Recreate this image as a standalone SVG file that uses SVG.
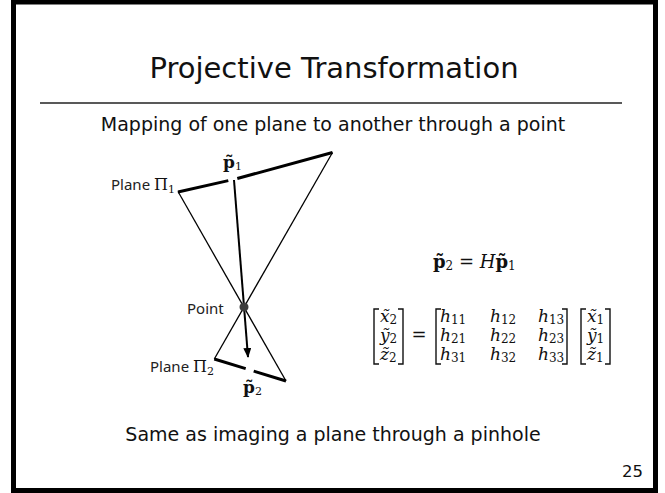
<svg xmlns="http://www.w3.org/2000/svg" width="665" height="493" viewBox="0 0 665 493">
<style>
.sans{font-family:"DejaVu Sans","Verdana",sans-serif;fill:#111}
.lbl{font-family:"Noto Sans","Liberation Sans",sans-serif;font-size:15px;fill:#222}
.math{font-family:"DejaVu Serif","Liberation Serif",serif;fill:#111}
.it{font-style:italic}
.thin{stroke:#000;stroke-width:1.3;fill:none}
.thick{stroke:#000;stroke-width:3;fill:none}
.br{stroke:#111;stroke-width:1.4;fill:none}
</style>
<defs>
<marker id="ah" markerWidth="10" markerHeight="8" refX="9" refY="4" orient="auto" markerUnits="userSpaceOnUse">
<path d="M0,0 L10,4 L0,8 Z" fill="#000"/>
</marker>
</defs>
<rect x="0" y="0" width="665" height="493" fill="#fff"/>
<rect x="13.5" y="2" width="642" height="488.5" fill="#fff" stroke="#000" stroke-width="5"/>

<g id="title">
<text class="sans" x="334" y="78" font-size="29" text-anchor="middle">Projective Transformation</text>
<line x1="40" y1="103" x2="622" y2="103" stroke="#222" stroke-width="1.5"/>
<text class="sans" x="333" y="131" font-size="19" text-anchor="middle">Mapping of one plane to another through a point</text>
</g>

<g id="connectors">
<path class="thin" d="M178,191.5 L286,381"/>
<path class="thin" d="M332.5,152.5 L214.3,359"/>
<path class="thick" d="M178,192 L228.3,180.6 M237.3,178.5 L332.5,152.5"/>
<path class="thick" d="M214.3,359 L245.7,368.6 M253.7,371.1 L286,381"/>
<path d="M234,180 L248,357" stroke="#000" stroke-width="2" fill="none" marker-end="url(#ah)"/>
</g>

<g id="point">
<circle cx="244" cy="307" r="4.5" fill="#3c3c3c"/>
<text class="lbl" x="187" y="314">Point</text>
</g>

<g id="plane1">
<text class="lbl" x="111" y="190">Plane <tspan class="math" font-size="16">Π</tspan><tspan class="math" font-size="11" dy="3">1</tspan></text>
<text class="math" x="223" y="168" font-size="17" font-weight="bold">p̃<tspan font-size="11" font-weight="normal" dy="2">1</tspan></text>
</g>

<g id="plane2">
<text class="lbl" x="150" y="372">Plane <tspan class="math" font-size="16">Π</tspan><tspan class="math" font-size="11" dy="3">2</tspan></text>
<text class="math" x="243" y="393" font-size="17" font-weight="bold">p̃<tspan font-size="11" font-weight="normal" dy="2">2</tspan></text>
</g>

<g id="equation">
<text class="math" x="433" y="268" font-size="18"><tspan font-weight="bold">p̃</tspan><tspan font-size="12" dy="2">2</tspan><tspan dy="-2"> = </tspan><tspan class="it">H</tspan><tspan font-weight="bold">p̃</tspan><tspan font-size="12" dy="2">1</tspan></text>
</g>

<g id="matrix">
<path class="br" d="M379,309 H374 V364 H379"/>
<path class="br" d="M398,309 H403 V364 H398"/>
<text class="math" font-size="17"><tspan class="it" x="380" y="322">x̃</tspan><tspan font-size="12" dy="2">2</tspan></text>
<text class="math" font-size="17"><tspan class="it" x="380" y="341">ỹ</tspan><tspan font-size="12" dy="2">2</tspan></text>
<text class="math" font-size="17"><tspan class="it" x="380" y="360">z̃</tspan><tspan font-size="12" dy="2">2</tspan></text>
<text class="math" x="419" y="341" font-size="18" text-anchor="middle">=</text>
<path class="br" d="M441,309 H436 V364 H441"/>
<path class="br" d="M562,309 H567 V364 H562"/>
<text class="math" font-size="17"><tspan class="it" x="440" y="322">h</tspan><tspan font-size="12" dy="2">11</tspan><tspan class="it" x="490" y="322">h</tspan><tspan font-size="12" dy="2">12</tspan><tspan class="it" x="538" y="322">h</tspan><tspan font-size="12" dy="2">13</tspan></text>
<text class="math" font-size="17"><tspan class="it" x="440" y="341">h</tspan><tspan font-size="12" dy="2">21</tspan><tspan class="it" x="490" y="341">h</tspan><tspan font-size="12" dy="2">22</tspan><tspan class="it" x="538" y="341">h</tspan><tspan font-size="12" dy="2">23</tspan></text>
<text class="math" font-size="17"><tspan class="it" x="440" y="360">h</tspan><tspan font-size="12" dy="2">31</tspan><tspan class="it" x="490" y="360">h</tspan><tspan font-size="12" dy="2">32</tspan><tspan class="it" x="538" y="360">h</tspan><tspan font-size="12" dy="2">33</tspan></text>
<path class="br" d="M586,309 H581 V364 H586"/>
<path class="br" d="M605,309 H610 V364 H605"/>
<text class="math" font-size="17"><tspan class="it" x="587" y="322">x̃</tspan><tspan font-size="12" dy="2">1</tspan></text>
<text class="math" font-size="17"><tspan class="it" x="587" y="341">ỹ</tspan><tspan font-size="12" dy="2">1</tspan></text>
<text class="math" font-size="17"><tspan class="it" x="587" y="360">z̃</tspan><tspan font-size="12" dy="2">1</tspan></text>
</g>

<g id="footer">
<text class="sans" x="333" y="441" font-size="19" text-anchor="middle">Same as imaging a plane through a pinhole</text>
<text class="sans" x="643" y="477" font-size="16.5" text-anchor="end">25</text>
</g>
</svg>
